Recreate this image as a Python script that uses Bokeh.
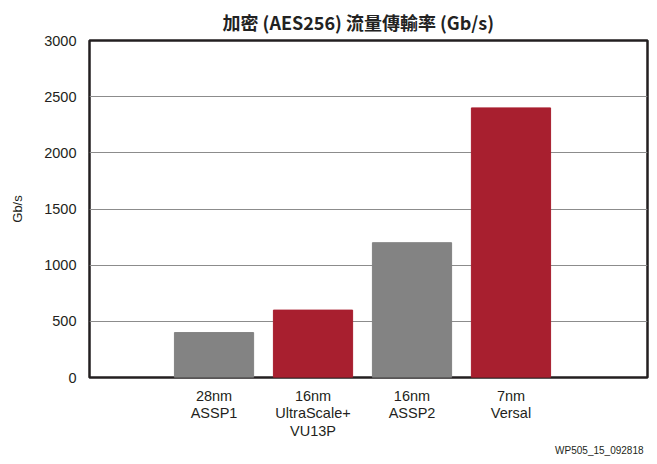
from bokeh.plotting import figure
from bokeh.models import ColumnDataSource, FixedTicker, Range1d, Title
from bokeh.embed import file_html
from bokeh.resources import INLINE

# data
categories = ["28nm\nASSP1", "16nm\nUltraScale+\nVU13P", "16nm\nASSP2", "7nm\nVersal"]
positions = [1, 2, 3, 4]
throughput = [400, 600, 1200, 2400]
bar_colors = ["#838383", "#a81f2f", "#838383", "#a81f2f"]
y_ticks = [0, 500, 1000, 1500, 2000, 2500, 3000]

source = ColumnDataSource(data=dict(x=positions, top=throughput, color=bar_colors))

p = figure(width=649, height=456,
           x_range=Range1d(-0.258, 5.379), y_range=Range1d(0, 3000),
           output_backend="svg", toolbar_location=None,
           min_border_left=89, min_border_right=2,
           min_border_top=40, min_border_bottom=79)

p.title.text = "加密 (AES256) 流量傳輸率 (Gb/s)"
p.title.align = "left"
p.title.offset = 133
p.title.standoff = 12
p.title.text_font = "Noto Sans CJK TC"
p.title.text_font_style = "bold"
p.title.text_font_size = "18px"
p.title.text_color = "#222222"

p.vbar(x="x", top="top", width=0.8, color="color", source=source)

# axes
p.xaxis.ticker = FixedTicker(ticks=positions)
p.xaxis.major_label_overrides = {pos: lab for pos, lab in zip(positions, categories)}
p.yaxis.ticker = FixedTicker(ticks=y_ticks)
p.yaxis.axis_label = "Gb/s"

for ax in (p.xaxis[0], p.yaxis[0]):
    ax.axis_line_color = None
    ax.major_tick_line_color = None
    ax.minor_tick_line_color = None
    ax.major_tick_out = 0
    ax.major_tick_in = 0
    ax.major_label_text_font = "Liberation Sans"
    ax.major_label_text_font_size = "14.5px"
    ax.major_label_text_color = "#231f20"

p.xaxis.major_label_standoff = 10
p.yaxis.major_label_standoff = 13
p.xaxis.major_label_text_line_height = 1.12
p.yaxis.axis_label_text_font = "Liberation Sans"
p.yaxis.axis_label_text_font_style = "normal"
p.yaxis.axis_label_text_font_size = "13px"
p.yaxis.axis_label_text_color = "#231f20"
p.yaxis.axis_label_standoff = 16

p.xgrid.grid_line_color = None
p.ygrid.grid_line_color = "#8c8c8c"
p.ygrid.grid_line_width = 1

p.outline_line_color = "#231f20"
p.outline_line_width = 2.5
p.outline_line_alpha = 1

footer = Title(text="WP505_15_092818", align="right", offset=4, standoff=0,
               text_font="Liberation Sans", text_font_size="10px",
               text_font_style="normal", text_color="#231f20")
p.add_layout(footer, "below")

open("out.html", "w").write(file_html(p, INLINE))
